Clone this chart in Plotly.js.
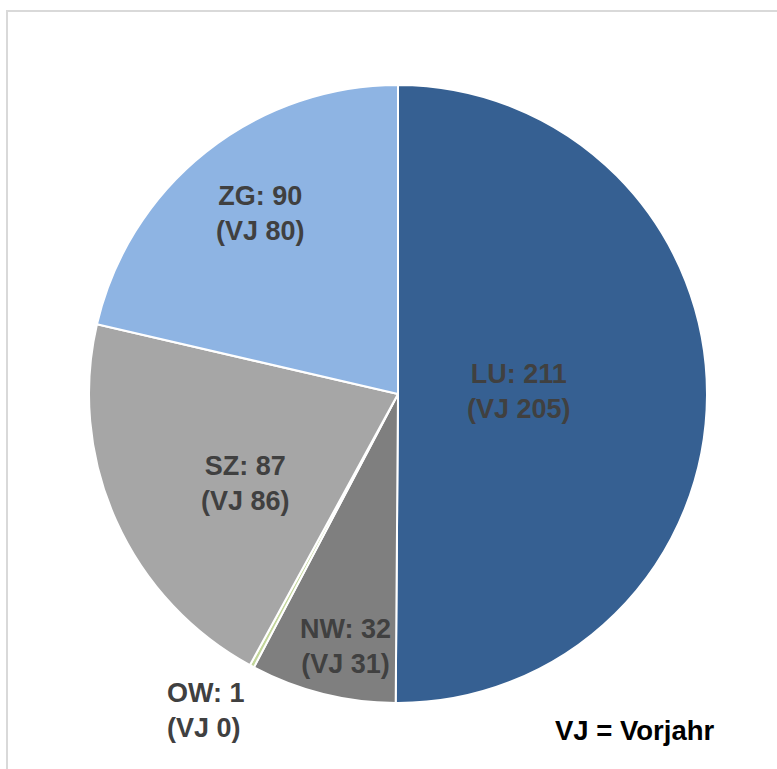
<!DOCTYPE html>
<html>
<head>
<meta charset="utf-8">
<script src="https://cdn.plot.ly/plotly-3.0.1.min.js"></script>
<style>html,body{margin:0;padding:0;background:#fff;}#chart{width:777px;height:769px;}</style>
</head>
<body>
<div id="chart"></div>
<script>
// Data
const regions = ['LU', 'NW', 'OW', 'SZ', 'ZG'];
const values = [211, 32, 1, 87, 90];
const previousYear = [205, 31, 0, 86, 80];
const colors = ['#366092', '#7F7F7F', '#C3D69B', '#A6A6A6', '#8EB4E3'];
const legendNote = 'VJ = Vorjahr';

const W = 777, H = 769;
// label anchor positions in pixels (layout)
const labelPos = [[519, 391], [345, 646], [165, 710], [245, 483], [260, 214]];
const labelAnchor = ['center', 'center', 'left', 'center', 'center'];

const annotations = regions.map((r, i) => ({
  xref: 'paper', yref: 'paper',
  x: labelPos[i][0] / W, y: 1 - labelPos[i][1] / H,
  xanchor: labelAnchor[i], yanchor: 'middle',
  text: '<b>' + r + ': ' + values[i] + '</b><br><b>(VJ ' + previousYear[i] + ')</b>',
  showarrow: false, align: labelAnchor[i] === 'left' ? 'left' : 'center',
  font: {family: 'Liberation Sans, Arial, sans-serif', size: 27, color: '#404040'}
}));
annotations.push({
  xref: 'paper', yref: 'paper', x: 553 / W, y: 1 - 730 / H,
  xanchor: 'left', yanchor: 'middle', text: '<b>' + legendNote + '</b>', showarrow: false,
  font: {family: 'Liberation Sans, Arial, sans-serif', size: 27.5, color: '#000000'}
});

const cx = 398, cy = 394, R = 309;
const trace = {
  type: 'pie',
  labels: regions,
  values: values,
  sort: false,
  direction: 'clockwise',
  rotation: 0,
  textinfo: 'none',
  hoverinfo: 'label+value',
  marker: {colors: colors, line: {color: '#FFFFFF', width: 2}},
  domain: {x: [(cx - R) / W, (cx + R) / W], y: [1 - (cy + R) / H, 1 - (cy - R) / H]},
  showlegend: false
};

const layout = {
  width: W, height: H,
  margin: {l: 0, r: 0, t: 0, b: 0},
  paper_bgcolor: '#FFFFFF',
  showlegend: false,
  annotations: annotations,
  shapes: [{type: 'rect', xref: 'paper', yref: 'paper', x0: 7 / W, x1: 1.02, y0: -0.02, y1: 1 - 11 / H,
            line: {color: '#D9D9D9', width: 2}, fillcolor: 'rgba(0,0,0,0)'}]
};

Plotly.newPlot('chart', [trace], layout, {displayModeBar: false, staticPlot: true});
</script>
</body>
</html>
